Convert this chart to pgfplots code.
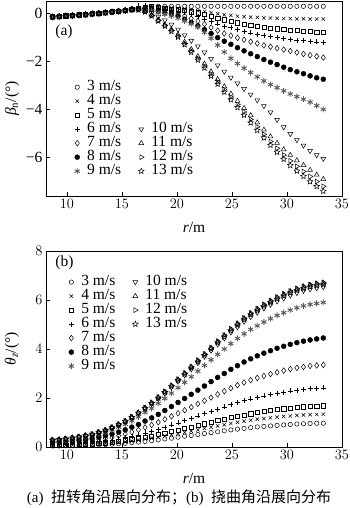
\documentclass[border=0pt]{standalone}
\usepackage{fontspec}
\setmainfont{Liberation Serif}
\newfontfamily\cjk{Noto Sans CJK SC}
\usepackage{pgfplots}
\pgfplotsset{compat=1.18}
\usepackage{pgfplotstable}

\pgfdeclareplotmark{ostar}{%
  \pgfpathmoveto{\pgfpointpolar{90}{\pgfplotmarksize}}%
  \pgfpathlineto{\pgfpointpolar{126}{0.45\pgfplotmarksize}}%
  \pgfpathlineto{\pgfpointpolar{162}{\pgfplotmarksize}}%
  \pgfpathlineto{\pgfpointpolar{198}{0.45\pgfplotmarksize}}%
  \pgfpathlineto{\pgfpointpolar{234}{\pgfplotmarksize}}%
  \pgfpathlineto{\pgfpointpolar{270}{0.45\pgfplotmarksize}}%
  \pgfpathlineto{\pgfpointpolar{306}{\pgfplotmarksize}}%
  \pgfpathlineto{\pgfpointpolar{342}{0.45\pgfplotmarksize}}%
  \pgfpathlineto{\pgfpointpolar{18}{\pgfplotmarksize}}%
  \pgfpathlineto{\pgfpointpolar{54}{0.45\pgfplotmarksize}}%
  \pgfpathclose\pgfusepathqstroke}

\pgfplotstableread{
r     v3    v4    v5    v6    v7    v8    v9    v10   v11   v12   v13
8.7  -0.15 -0.15 -0.15 -0.15 -0.15 -0.17 -0.17 -0.17 -0.17 -0.17 -0.17
9.3  -0.13 -0.13 -0.13 -0.13 -0.13 -0.15 -0.15 -0.15 -0.15 -0.15 -0.15
9.9  -0.11 -0.11 -0.11 -0.11 -0.11 -0.13 -0.13 -0.13 -0.13 -0.13 -0.13
10.5 -0.09 -0.09 -0.09 -0.09 -0.09 -0.11 -0.11 -0.11 -0.11 -0.11 -0.11
11.1 -0.07 -0.07 -0.07 -0.07 -0.07 -0.09 -0.09 -0.09 -0.09 -0.09 -0.09
11.7 -0.05 -0.05 -0.05 -0.05 -0.05 -0.07 -0.07 -0.07 -0.07 -0.07 -0.07
12.3 -0.02 -0.02 -0.02 -0.02 -0.02 -0.04 -0.04 -0.04 -0.04 -0.04 -0.04
12.9  0.00  0.00  0.00  0.00  0.00 -0.02 -0.02 -0.02 -0.02 -0.02 -0.02
13.5  0.03  0.03  0.03  0.03  0.03  0.01  0.01  0.01  0.01  0.01  0.01
14.1  0.06  0.06  0.06  0.06  0.06  0.04  0.04  0.04  0.04  0.04  0.04
14.7  0.09  0.09  0.09  0.09  0.09  0.07  0.07  0.07  0.07  0.07  0.07
15.3  0.12  0.12  0.12  0.12  0.12  0.10  0.10  0.10  0.10  0.10  0.10
15.9  0.16  0.16  0.16  0.20  0.16  0.14  0.14  0.14  0.14  0.14  0.14
16.5  0.20  0.20  0.20  0.30  0.19  0.18  0.17  0.17  0.15  0.14  0.13
17.1  0.24  0.24  0.25  0.32  0.21  0.18  0.15  0.12  0.08  0.06  0.05
17.7  0.26  0.25  0.26  0.28  0.18  0.14  0.10  0.00 -0.08 -0.10 -0.12
18.3  0.28  0.24  0.23  0.18  0.13  0.07  0.02 -0.15 -0.28 -0.30 -0.33
18.9  0.28  0.23  0.20  0.15  0.08  0.01 -0.05 -0.30 -0.48 -0.51 -0.54
19.5  0.28  0.21  0.17  0.12  0.04 -0.05 -0.12 -0.48 -0.68 -0.72 -0.76
20.1  0.28  0.20  0.14  0.09 -0.02 -0.12 -0.21 -0.68 -0.90 -0.95 -1.00
20.7  0.28  0.17  0.10  0.02 -0.12 -0.26 -0.33 -0.92 -1.20 -1.26 -1.31
21.3  0.28  0.13  0.05 -0.06 -0.23 -0.39 -0.45 -1.15 -1.50 -1.57 -1.63
21.9  0.28  0.10  0.01 -0.14 -0.33 -0.53 -0.58 -1.38 -1.80 -1.88 -1.95
22.5  0.28  0.06 -0.06 -0.24 -0.46 -0.69 -0.80 -1.63 -2.11 -2.20 -2.28
23.1  0.28  0.02 -0.14 -0.34 -0.60 -0.85 -1.05 -1.90 -2.43 -2.53 -2.62
23.7  0.28 -0.03 -0.21 -0.45 -0.73 -1.02 -1.33 -2.17 -2.75 -2.86 -2.95
24.3  0.28 -0.07 -0.28 -0.54 -0.85 -1.17 -1.62 -2.43 -3.05 -3.18 -3.28
24.9  0.28 -0.10 -0.34 -0.61 -0.94 -1.30 -1.88 -2.68 -3.35 -3.49 -3.60
25.5  0.28 -0.13 -0.40 -0.69 -1.03 -1.44 -2.10 -2.92 -3.65 -3.80 -3.92
26.1  0.28 -0.15 -0.46 -0.76 -1.11 -1.57 -2.29 -3.15 -3.95 -4.11 -4.24
26.7  0.28 -0.17 -0.50 -0.82 -1.19 -1.69 -2.47 -3.38 -4.25 -4.42 -4.56
27.3  0.28 -0.18 -0.55 -0.88 -1.26 -1.81 -2.65 -3.62 -4.55 -4.73 -4.87
27.9  0.28 -0.20 -0.60 -0.94 -1.34 -1.93 -2.82 -3.86 -4.85 -5.04 -5.18
28.5  0.28 -0.21 -0.62 -0.98 -1.40 -2.04 -2.97 -4.12 -5.13 -5.34 -5.49
29.1  0.28 -0.22 -0.65 -1.02 -1.46 -2.14 -3.10 -4.43 -5.40 -5.62 -5.78
29.7  0.28 -0.23 -0.69 -1.06 -1.52 -2.25 -3.23 -4.74 -5.67 -5.90 -6.07
30.3  0.28 -0.23 -0.71 -1.10 -1.58 -2.35 -3.36 -5.02 -5.90 -6.14 -6.33
30.9  0.28 -0.24 -0.73 -1.13 -1.64 -2.44 -3.47 -5.27 -6.12 -6.37 -6.56
31.5  0.28 -0.24 -0.75 -1.15 -1.70 -2.52 -3.58 -5.50 -6.32 -6.58 -6.78
32.1  0.28 -0.25 -0.77 -1.18 -1.75 -2.61 -3.70 -5.72 -6.52 -6.79 -7.00
32.7  0.28 -0.25 -0.79 -1.20 -1.80 -2.69 -3.85 -5.90 -6.72 -7.00 -7.20
33.3  0.28 -0.25 -0.80 -1.23 -1.85 -2.75 -4.00 -6.05 -6.90 -7.20 -7.40
}\topdata

\pgfplotstableread{
r     v3    v4    v5    v6    v7    v8    v9    v10   v11   v12   v13
8.7   0.04  0.06  0.07  0.10  0.14  0.18  0.25  0.27  0.28  0.29  0.28
9.3   0.04  0.06  0.08  0.11  0.15  0.20  0.26  0.29  0.30  0.31  0.30
9.9   0.05  0.07  0.08  0.12  0.17  0.22  0.29  0.32  0.33  0.34  0.33
10.5  0.05  0.07  0.09  0.13  0.19  0.24  0.33  0.36  0.37  0.38  0.37
11.1  0.06  0.08  0.10  0.15  0.21  0.27  0.36  0.40  0.41  0.42  0.41
11.7  0.07  0.09  0.12  0.17  0.23  0.30  0.40  0.45  0.46  0.47  0.46
12.3  0.08  0.10  0.13  0.19  0.26  0.34  0.46  0.51  0.52  0.53  0.51
12.9  0.09  0.12  0.15  0.22  0.30  0.40  0.53  0.59  0.60  0.61  0.59
13.5  0.10  0.14  0.17  0.25  0.35  0.46  0.61  0.67  0.69  0.70  0.68
14.1  0.12  0.16  0.20  0.29  0.40  0.53  0.70  0.78  0.80  0.81  0.79
14.7  0.13  0.18  0.23  0.33  0.46  0.61  0.81  0.90  0.92  0.93  0.91
15.3  0.15  0.21  0.27  0.38  0.53  0.70  0.93  1.03  1.06  1.07  1.05
15.9  0.18  0.24  0.31  0.44  0.61  0.81  1.07  1.19  1.22  1.23  1.21
16.5  0.20  0.28  0.35  0.50  0.70  0.92  1.23  1.37  1.40  1.41  1.39
17.1  0.23  0.32  0.40  0.58  0.80  1.06  1.41  1.56  1.60  1.61  1.58
17.7  0.26  0.36  0.45  0.65  0.90  1.19  1.58  1.76  1.80  1.82  1.78
18.3  0.29  0.40  0.51  0.73  1.01  1.33  1.78  1.97  2.02  2.04  2.00
18.9  0.33  0.45  0.56  0.81  1.13  1.49  1.98  2.19  2.25  2.27  2.23
19.5  0.36  0.50  0.63  0.90  1.25  1.65  2.20  2.44  2.50  2.52  2.48
20.1  0.40  0.55  0.69  0.99  1.38  1.82  2.42  2.68  2.75  2.77  2.72
20.7  0.44  0.60  0.75  1.08  1.50  1.98  2.64  2.93  3.00  3.02  2.97
21.3  0.47  0.65  0.82  1.17  1.63  2.15  2.87  3.18  3.26  3.28  3.23
21.9  0.51  0.70  0.88  1.27  1.76  2.32  3.10  3.43  3.52  3.54  3.48
22.5  0.55  0.76  0.95  1.36  1.89  2.49  3.33  3.69  3.78  3.80  3.74
23.1  0.59  0.81  1.01  1.45  2.02  2.67  3.56  3.94  4.04  4.06  4.00
23.7  0.62  0.86  1.08  1.55  2.15  2.84  3.78  4.19  4.30  4.32  4.26
24.3  0.66  0.91  1.14  1.64  2.28  3.00  4.00  4.44  4.55  4.57  4.50
24.9  0.70  0.96  1.20  1.73  2.40  3.17  4.22  4.68  4.80  4.82  4.75
25.5  0.73  1.01  1.26  1.81  2.52  3.32  4.43  4.90  5.03  5.05  4.98
26.1  0.76  1.05  1.31  1.89  2.63  3.47  4.62  5.12  5.25  5.27  5.20
26.7  0.79  1.09  1.36  1.96  2.73  3.60  4.80  5.31  5.45  5.47  5.40
27.3  0.82  1.13  1.41  2.03  2.82  3.72  4.95  5.49  5.63  5.65  5.57
27.9  0.84  1.16  1.45  2.09  2.90  3.83  5.10  5.66  5.80  5.82  5.74
28.5  0.86  1.19  1.49  2.15  2.98  3.93  5.24  5.81  5.96  5.98  5.90
29.1  0.88  1.22  1.53  2.20  3.05  4.03  5.37  5.95  6.10  6.12  6.04
29.7  0.90  1.25  1.56  2.24  3.12  4.11  5.48  6.07  6.23  6.25  6.17
30.3  0.92  1.27  1.59  2.29  3.18  4.19  5.59  6.19  6.35  6.37  6.29
30.9  0.94  1.29  1.61  2.32  3.23  4.26  5.68  6.29  6.45  6.47  6.39
31.5  0.95  1.31  1.64  2.35  3.27  4.32  5.76  6.38  6.54  6.56  6.47
32.1  0.96  1.32  1.65  2.38  3.31  4.37  5.82  6.44  6.61  6.63  6.54
32.7  0.97  1.33  1.67  2.40  3.33  4.41  5.86  6.49  6.66  6.68  6.59
33.3  0.97  1.34  1.68  2.41  3.35  4.45  5.90  6.53  6.70  6.72  6.63
}\botdata

\pgfplotsset{
  m3/.style={only marks, mark=o, mark size=2.2pt, black, line width=0.5pt},
  m4/.style={only marks, mark=x, mark size=2.4pt, black, line width=0.5pt},
  m5/.style={only marks, mark=square, mark size=2.1pt, black, line width=0.5pt},
  m6/.style={only marks, mark=+, mark size=2.5pt, black, line width=0.5pt},
  m7/.style={only marks, mark=diamond, mark size=2.8pt, black, line width=0.5pt},
  m8/.style={only marks, mark=*, mark size=2.5pt, black},
  m9/.style={only marks, mark=asterisk, mark size=3pt, black!65, line width=0.9pt},
  m10/.style={only marks, mark=triangle, mark size=2.8pt, mark options={rotate=180}, black, line width=0.5pt},
  m11/.style={only marks, mark=triangle, mark size=2.8pt, black, line width=0.5pt},
  m12/.style={only marks, mark=triangle, mark size=2.8pt, mark options={rotate=-90}, black, line width=0.5pt},
  m13/.style={only marks, mark=ostar, mark size=3pt, black, line width=0.5pt},
  common/.style={
    scale only axis, width=296pt, xmin=8.1, xmax=35,
    xtick={10,15,20,25,30,35},
    tick align=inside, xtick pos=bottom, ytick pos=left,
    major tick length=4pt,
    axis line style={line width=0.6pt},
    tick style={line width=0.5pt, black},
    tick label style={font=\fontsize{15.5}{15.5}\selectfont},
    label style={font=\fontsize{15.5}{15.5}\selectfont},
    xlabel={\textit{r}/m},
    xlabel style={at={(axis description cs:0.5,-0.16)}, anchor=center},
    ylabel style={at={(axis description cs:-0.115,0.5)}, anchor=center, rotate=0},
    clip=false,
    legend cell align=left,
    legend image code/.code={\draw[##1] plot coordinates {(5pt,0pt)};\path[draw=none] (0pt,0pt) (14pt,0pt);},
    legend style={draw=none, fill=none, font=\fontsize{15.5}{15.5}\selectfont,
      row sep=0pt, inner sep=0pt,
      nodes={inner sep=1pt, text height=9.5pt, text depth=2.5pt},
      /tikz/every even column/.append style={column sep=14pt}},
  },
}

\begin{document}
\begin{tikzpicture}
\useasboundingbox (0,0) rectangle (350pt,-508pt);

\begin{axis}[common, at={(46pt,-196pt)}, anchor=south west, height=195pt,
  ymin=-7.6, ymax=0.5, ytick={-6,-4,-2,0}, yticklabels={−6,−4,−2,0},
  ylabel={{\itshape β}\textsubscript{n}/(°)},
  legend columns=2,
  legend style={at={(axis description cs:0.088,0.595)}, anchor=north west}]
\addplot[m3, forget plot] table[x=r,y=v3] {\topdata};
\addplot[m4, forget plot] table[x=r,y=v4] {\topdata};
\addplot[m5, forget plot] table[x=r,y=v5] {\topdata};
\addplot[m6, forget plot] table[x=r,y=v6] {\topdata};
\addplot[m7, forget plot] table[x=r,y=v7] {\topdata};
\addplot[m8, forget plot] table[x=r,y=v8] {\topdata};
\addplot[m9, forget plot] table[x=r,y=v9] {\topdata};
\addplot[m10, forget plot] table[x=r,y=v10] {\topdata};
\addplot[m11, forget plot] table[x=r,y=v11] {\topdata};
\addplot[m12, forget plot] table[x=r,y=v12] {\topdata};
\addplot[m13, forget plot] table[x=r,y=v13] {\topdata};
\addlegendimage{m3}\addlegendentry{3 m/s}
\addlegendimage{empty legend}\addlegendentry{}
\addlegendimage{m4}\addlegendentry{4 m/s}
\addlegendimage{empty legend}\addlegendentry{}
\addlegendimage{m5}\addlegendentry{5 m/s}
\addlegendimage{empty legend}\addlegendentry{}
\addlegendimage{m6}\addlegendentry{6 m/s}
\addlegendimage{m10}\addlegendentry{10 m/s}
\addlegendimage{m7}\addlegendentry{7 m/s}
\addlegendimage{m11}\addlegendentry{11 m/s}
\addlegendimage{m8}\addlegendentry{8 m/s}
\addlegendimage{m12}\addlegendentry{12 m/s}
\addlegendimage{m9}\addlegendentry{9 m/s}
\addlegendimage{m13}\addlegendentry{13 m/s}
\node[anchor=west, font=\fontsize{15.5}{15.5}\selectfont] at (axis description cs:0.02,0.84) {(a)};
\end{axis}

\begin{axis}[common, at={(46pt,-447pt)}, anchor=south west, height=196pt,
  ymin=0, ymax=8, ytick={0,2,4,6,8},
  ylabel={{\itshape θ}\textsubscript{\itshape z}/(°)},
  legend columns=2,
  legend style={at={(axis description cs:0.068,0.878)}, anchor=north west}]
\addplot[m3, forget plot] table[x=r,y=v3] {\botdata};
\addplot[m4, forget plot] table[x=r,y=v4] {\botdata};
\addplot[m5, forget plot] table[x=r,y=v5] {\botdata};
\addplot[m6, forget plot] table[x=r,y=v6] {\botdata};
\addplot[m7, forget plot] table[x=r,y=v7] {\botdata};
\addplot[m8, forget plot] table[x=r,y=v8] {\botdata};
\addplot[m9, forget plot] table[x=r,y=v9] {\botdata};
\addplot[m10, forget plot] table[x=r,y=v10] {\botdata};
\addplot[m11, forget plot] table[x=r,y=v11] {\botdata};
\addplot[m12, forget plot] table[x=r,y=v12] {\botdata};
\addplot[m13, forget plot] table[x=r,y=v13] {\botdata};
\addlegendimage{m3}\addlegendentry{3 m/s}
\addlegendimage{m10}\addlegendentry{10 m/s}
\addlegendimage{m4}\addlegendentry{4 m/s}
\addlegendimage{m11}\addlegendentry{11 m/s}
\addlegendimage{m5}\addlegendentry{5 m/s}
\addlegendimage{m12}\addlegendentry{12 m/s}
\addlegendimage{m6}\addlegendentry{6 m/s}
\addlegendimage{m13}\addlegendentry{13 m/s}
\addlegendimage{m7}\addlegendentry{7 m/s}
\addlegendimage{empty legend}\addlegendentry{}
\addlegendimage{m8}\addlegendentry{8 m/s}
\addlegendimage{empty legend}\addlegendentry{}
\addlegendimage{m9}\addlegendentry{9 m/s}
\addlegendimage{empty legend}\addlegendentry{}
\node[anchor=west, font=\fontsize{15.5}{15.5}\selectfont] at (axis description cs:0.02,0.94) {(b)};
\end{axis}

\node[font=\fontsize{15}{15}\selectfont] at (179pt,-498pt) {(a)\ \ {\cjk 扭转角沿展向分布；}(b)\ \ {\cjk 挠曲角沿展向分布}};
\end{tikzpicture}
\end{document}
